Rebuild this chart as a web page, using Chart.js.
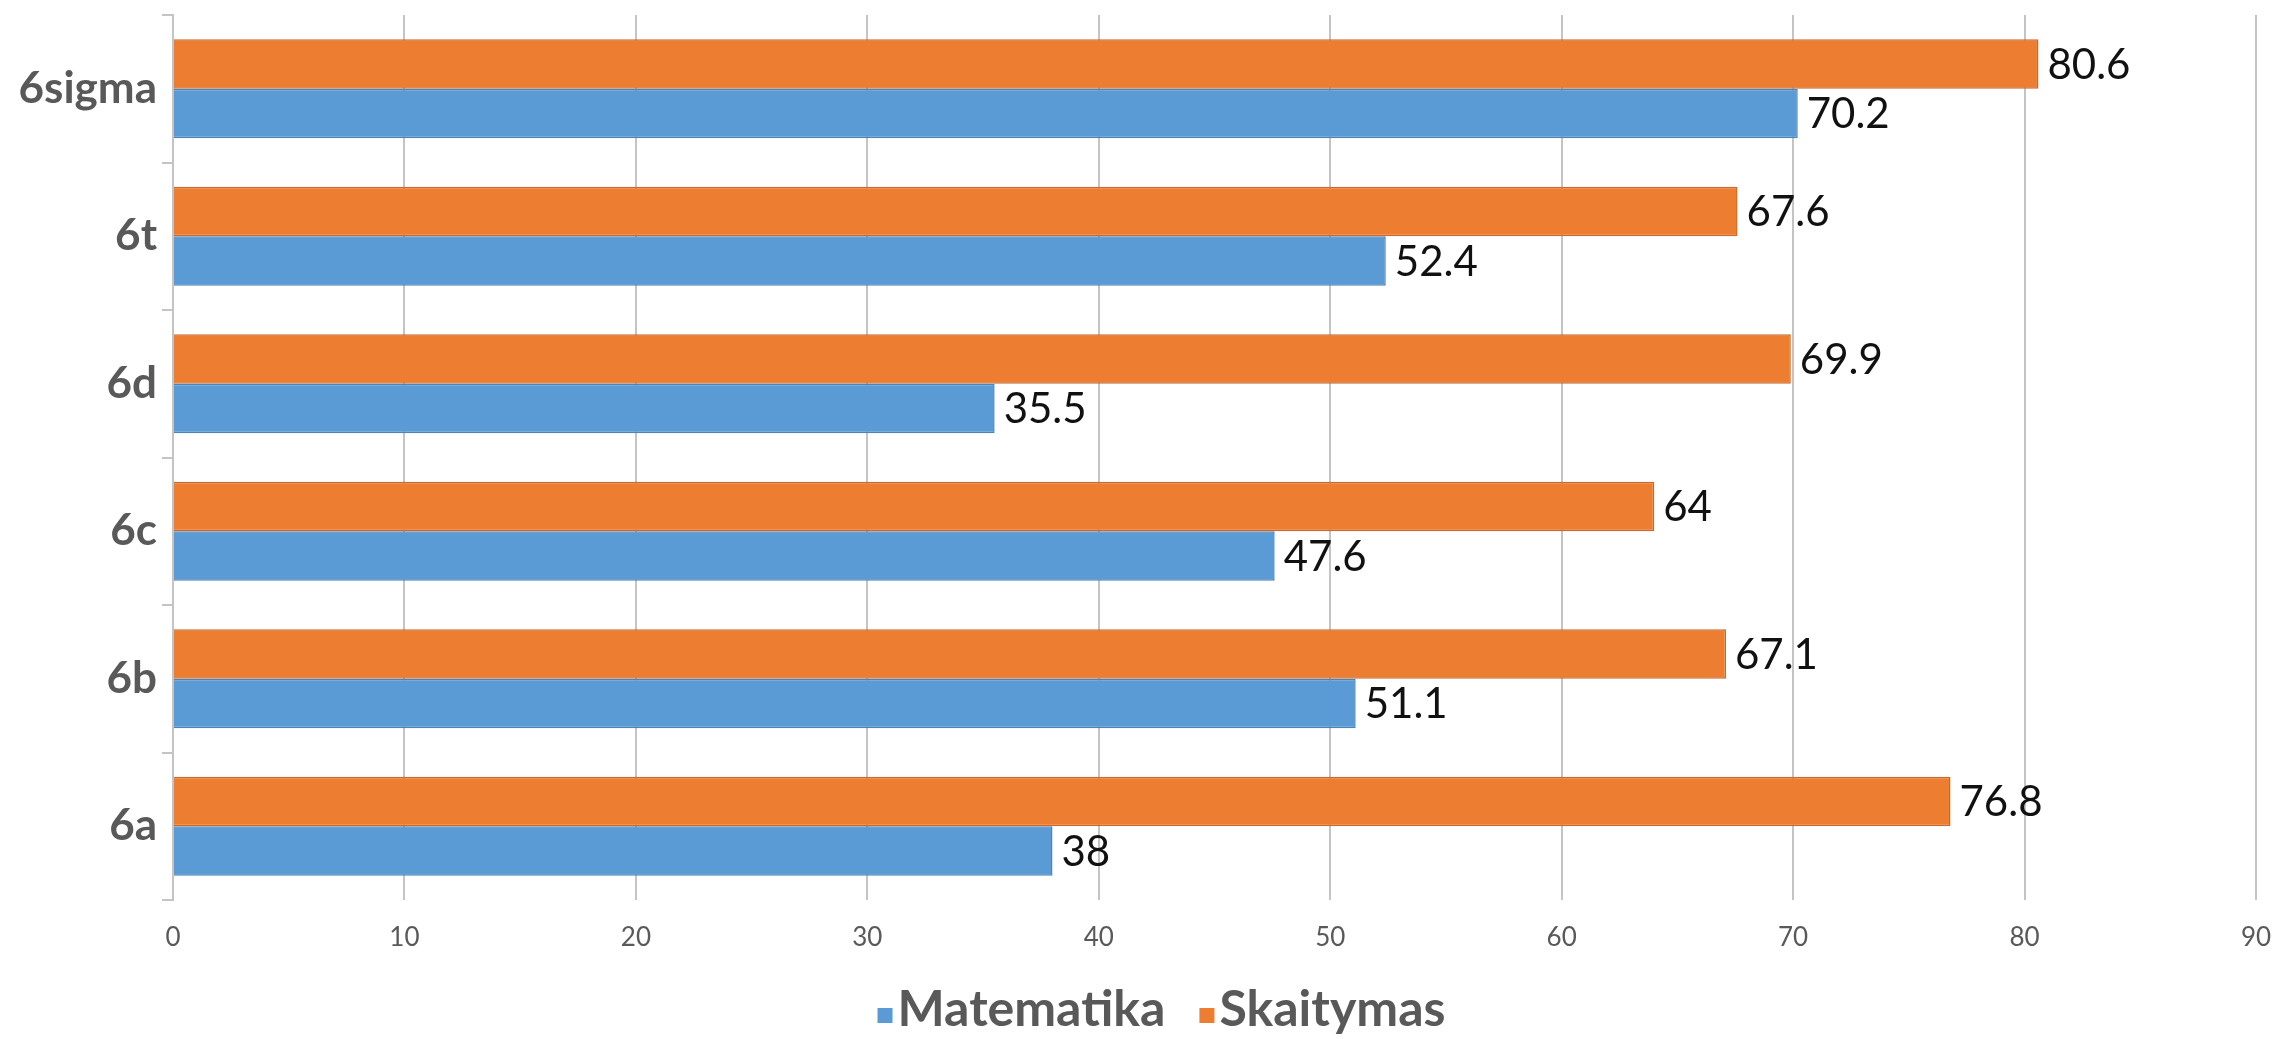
<!DOCTYPE html>
<html>
<head>
<meta charset="utf-8">
<script src="https://cdn.jsdelivr.net/npm/chart.js@4.4.1/dist/chart.umd.min.js"></script>
<style>
  html, body { margin: 0; padding: 0; background: #fff; }
  #wrap { width: 2275px; height: 1039px; position: relative; }
</style>
</head>
<body>
<div id="wrap"><canvas id="c"></canvas></div>
<script>
const classes    = ['6sigma', '6t', '6d', '6c', '6b', '6a'];
const matematika = [70.2, 52.4, 35.5, 47.6, 51.1, 38];
const skaitymas  = [80.6, 67.6, 69.9, 64, 67.1, 76.8];
const xTicks     = [0, 10, 20, 30, 40, 50, 60, 70, 80, 90];

const BLUE = '#5B9BD5', ORANGE = '#ED7D31';
const GRID = '#C4C4C4', TEXT = '#595959';

// value labels right of each bar
const valueLabels = {
  id: 'valueLabels',
  afterDatasetsDraw(chart) {
    const ctx = chart.ctx;
    ctx.save();
    ctx.font = '42px Lato';
    ctx.fillStyle = '#111';
    ctx.textBaseline = 'middle';
    ctx.textAlign = 'left';
    chart.data.datasets.forEach((ds, i) => {
      chart.getDatasetMeta(i).data.forEach((bar, j) => {
        ctx.fillText(String(ds.data[j]), bar.x + 9, bar.y + 1);
      });
    });
    ctx.restore();
  }
};

// excel style legend: small square sitting low next to the text
const bottomLegend = {
  id: 'bottomLegend',
  afterDraw(chart) {
    const ctx = chart.ctx;
    const items = [
      { text: 'Matematika', color: BLUE },
      { text: 'Skaitymas', color: ORANGE }
    ];
    const box = 15, gap = 5, spacing = 34, yMid = 1010;
    ctx.save();
    ctx.font = 'bold 50px Lato';
    ctx.textBaseline = 'middle';
    const widths = items.map(it => box + gap + ctx.measureText(it.text).width);
    const total = widths.reduce((s, w) => s + w, 0) + spacing * (items.length - 1);
    let x = chart.width / 2 + 24 - total / 2;
    items.forEach((it, k) => {
      ctx.fillStyle = it.color;
      ctx.fillRect(x, yMid - 2, box, box);
      ctx.fillStyle = TEXT;
      ctx.fillText(it.text, x + box + gap, yMid);
      x += widths[k] + spacing;
    });
    ctx.restore();
  }
};

new Chart(document.getElementById('c'), {
  type: 'bar',
  data: {
    labels: classes,
    datasets: [
      { label: 'Skaitymas', data: skaitymas, backgroundColor: ORANGE, borderColor: '#C9692B', borderWidth: 1.5 },
      { label: 'Matematika', data: matematika, backgroundColor: BLUE, borderColor: '#4C84B6', borderWidth: 1.5 }
    ]
  },
  options: {
    indexAxis: 'y',
    responsive: true,
    maintainAspectRatio: false,
    animation: false,
    layout: { padding: { top: 15, right: 19, bottom: 86, left: 0 } },
    datasets: { bar: { barPercentage: 1, categoryPercentage: 0.67 } },
    plugins: {
      legend: { display: false },
      tooltip: { enabled: false }
    },
    scales: {
      x: {
        min: 0, max: 90,
        afterBuildTicks: s => { s.ticks = xTicks.map(v => ({ value: v })); },
        afterFit: s => { s.height = 53; s.paddingLeft = 0; s.paddingRight = 0; },
        grid: { color: GRID, lineWidth: 2, drawTicks: false },
        border: { display: false },
        ticks: { color: TEXT, padding: 22, font: { family: 'Lato', size: 26 } }
      },
      y: {
        afterFit: s => { s.width = 173; s.paddingTop = 0; s.paddingBottom = 0; },
        grid: { drawOnChartArea: false, drawTicks: true, tickLength: 11, color: GRID, lineWidth: 2 },
        border: { display: true, color: GRID, width: 2 },
        ticks: { color: TEXT, padding: 5, font: { family: 'Lato', size: 44, weight: 'bold' } }
      }
    }
  },
  plugins: [valueLabels, bottomLegend]
});
</script>
</body>
</html>
